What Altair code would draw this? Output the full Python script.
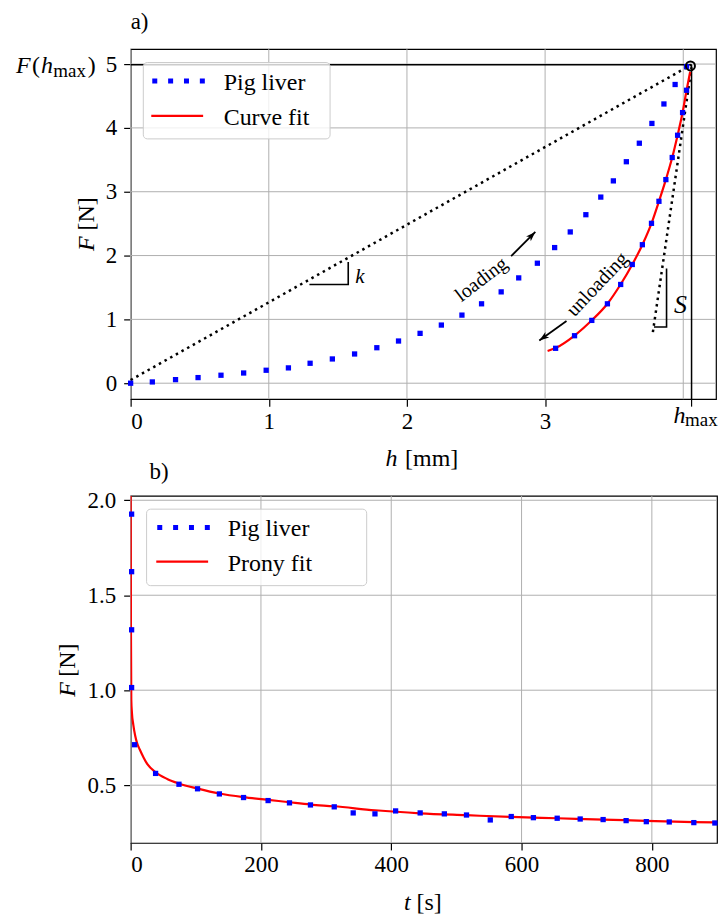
import altair as alt
import pandas as pd

FONT = "Liberation Serif"
BLUE = "#0000ff"
RED = "#ff0000"
GRID = "#b0b0b0"

# ---------------- panel a) data ----------------
h_load = [0.0, 0.157, 0.325, 0.488, 0.654, 0.818, 0.981, 1.142, 1.299, 1.460, 1.621, 1.782,
          1.939, 2.095, 2.249, 2.398, 2.540, 2.682, 2.809, 2.944, 3.069, 3.182, 3.295, 3.403,
          3.494, 3.588, 3.682, 3.773, 3.860, 3.941, 4.024]
F_load = [0.0, 0.02, 0.056, 0.088, 0.125, 0.16, 0.203, 0.24, 0.3125, 0.38, 0.458, 0.556,
          0.661, 0.781, 0.911, 1.067, 1.244, 1.431, 1.65, 1.88, 2.125, 2.37, 2.64, 2.916,
          3.17, 3.47, 3.76, 4.07, 4.375, 4.68, 4.96]
h_unl = [4.024, 3.995, 3.959, 3.920, 3.874, 3.824, 3.770, 3.704, 3.631, 3.547, 3.451, 3.338, 3.213, 3.076]
F_unl = [4.59, 4.24, 3.885, 3.536, 3.19, 2.85, 2.505, 2.17, 1.86, 1.547, 1.244, 0.984, 0.744, 0.547]
h_fit = [3.018, 3.076, 3.213, 3.338, 3.451, 3.547, 3.631, 3.704, 3.770, 3.824, 3.874, 3.920,
         3.959, 3.995, 4.024, 4.050]
F_fit = [0.505, 0.55, 0.745, 0.985, 1.245, 1.55, 1.86, 2.17, 2.505, 2.85, 3.19, 3.535,
         3.885, 4.24, 4.59, 4.88]
h_max = 4.06
F_max = 4.99
k_line_h = [0.0, 4.06]
k_line_F = [0.05, 4.99]
S_line_h = [3.78, 4.06]
S_line_F = [0.80, 4.95]
k_tri_h = [1.294, 1.575, 1.575]
k_tri_F = [1.547, 1.547, 1.90]
S_tri_h = [3.788, 3.879, 3.879]
S_tri_F = [0.88, 0.88, 1.797]
h_ticks = [0, 1, 2, 3, h_max]
h_grid = [0, 1, 2, 3, 4]
F_ticks = [0, 1, 2, 3, 4, 5]
h_dom = [0, 4.237]
F_dom = [-0.25, 5.234]
arrows = [  # start h, start F, tip h, tip F, head angle
    (2.754, 1.99, 2.929, 2.37, 45),
    (3.155, 0.973, 2.958, 0.67, 235),
]
notes = [  # text, h, F, angle, size, style
    ("loading", 2.539, 1.625, 322.6, 20, "normal"),
    ("unloading", 3.379, 1.547, 313.4, 20, "normal"),
    ("k", 1.66, 1.67, 0, 21, "italic"),
    ("S", 3.98, 1.23, 0, 26, "italic"),
]

# ---------------- panel b) data ----------------
t_data = [1.5, 1.5, 1.5, 1.5, 6.0, 38.3, 74.2, 102.7, 136.2, 173.3, 211, 243.8, 276, 312.5,
          341.6, 375, 406.7, 444.4, 481.5, 515.5, 552, 584.2, 618.2, 654.7, 690, 725.2,
          760.5, 791.5, 826.7, 864.4, 896.7]
Fb_data = [1.927, 1.624, 1.318, 1.014, 0.713, 0.562, 0.505, 0.481, 0.454, 0.435, 0.419, 0.407,
           0.396, 0.386, 0.354, 0.349, 0.3645, 0.354, 0.349, 0.343, 0.317, 0.335, 0.329,
           0.326, 0.322, 0.319, 0.3135, 0.308, 0.3065, 0.303, 0.301]
t_fit = [0, 0.5, 1, 2, 4, 7, 10, 14, 20, 26, 38, 56, 74, 103, 136, 173, 211, 244, 276, 312,
         375, 444, 515, 584, 655, 725, 791, 864, 900]
Fb_fit = [2.05, 1.3, 0.95, 0.88, 0.82, 0.76, 0.72, 0.688, 0.645, 0.609, 0.569, 0.533, 0.509,
          0.482, 0.456, 0.437, 0.423, 0.41, 0.398, 0.389, 0.368, 0.352, 0.342, 0.333, 0.326,
          0.319, 0.312, 0.306, 0.304]
t_ticks = [0, 200, 400, 600, 800]
Fb_ticks = [0.5, 1.0, 1.5, 2.0]
t_dom = [0, 900]
Fb_dom = [0.196, 2.023]

TOP_W, TOP_H = 587, 351
BOT_W, BOT_H = 588, 348


def label(txt, x, y, size=23, style="normal", align="left", baseline="alphabetic", angle=0):
    return alt.Chart(pd.DataFrame({"s": [txt]})).mark_text(
        font=FONT, fontSize=size, fontStyle=style, align=align,
        baseline=baseline, angle=angle, color="black"
    ).encode(x=alt.value(x), y=alt.value(y), text="s:N")


def legend(box, y1, y2, text1, text2, xs):
    x0, x1, ytop, ybot = box
    bg = alt.Chart(alt.Data(values=[{}])).mark_rect(
        cornerRadius=4, fill="white", fillOpacity=0.8, stroke="#cccccc", strokeWidth=1
    ).encode(x=alt.value(x0), x2=alt.value(x1), y=alt.value(ytop), y2=alt.value(ybot))
    dots = alt.Chart(alt.Data(values=[{}])).mark_rule(
        color=BLUE, strokeWidth=5, strokeDash=[5, 10.9], strokeCap="butt"
    ).encode(x=alt.value(xs[0]), x2=alt.value(xs[0] + 52.7), y=alt.value(y1))
    red = alt.Chart(alt.Data(values=[{}])).mark_rule(color=RED, strokeWidth=2.2).encode(
        x=alt.value(xs[0] - 1), x2=alt.value(xs[0] + 51), y=alt.value(y2))
    return [bg, dots, red,
            label(text1, xs[1], y1 + 9, size=24),
            label(text2, xs[1], y2 + 9, size=24)]


# ---------------- panel a) ----------------
xs = alt.Scale(domain=h_dom, nice=False, zero=False)
ys = alt.Scale(domain=F_dom, nice=False, zero=False)
AX_A = alt.Axis(values=h_ticks, grid=False, domain=False, title=None,
                labelExpr="datum.value > 3.5 ? '' : datum.label", format="d", labelPadding=4)
AY_A = alt.Axis(values=F_ticks, grid=False, domain=False, title=None, format="d", labelPadding=7)


def XA(f):
    return alt.X(f, scale=xs, axis=AX_A)


def YA(f):
    return alt.Y(f, scale=ys, axis=AY_A)


grid_v = alt.Chart(pd.DataFrame({"h": h_grid})).mark_rule(color=GRID, strokeWidth=1).encode(
    x=XA("h:Q"))
grid_h = alt.Chart(pd.DataFrame({"F": F_ticks})).mark_rule(color=GRID, strokeWidth=1).encode(
    y=YA("F:Q"))

hline = alt.Chart(pd.DataFrame({"a": [0.0], "b": [h_max], "F": [F_max]})).mark_rule(
    color="black", strokeWidth=1.5).encode(x=XA("a:Q"), x2="b:Q", y=YA("F:Q"))
vline = alt.Chart(pd.DataFrame({"h": [h_max], "a": [F_dom[0]], "b": [F_max]})).mark_rule(
    color="black", strokeWidth=1.5).encode(x=XA("h:Q"), y=YA("a:Q"), y2="b:Q")


def dotted(hv, Fv):
    return alt.Chart(pd.DataFrame({"h": hv, "F": Fv})).mark_line(
        color="black", strokeWidth=2.5, strokeDash=[2.5, 4], strokeCap="butt").encode(
        x=XA("h:Q"), y=YA("F:Q"))


def tri(hv, Fv):
    return alt.Chart(pd.DataFrame({"h": hv, "F": Fv, "o": list(range(len(hv)))})).mark_line(
        color="black", strokeWidth=1.6).encode(x=XA("h:Q"), y=YA("F:Q"), order="o:Q")


red_a = alt.Chart(pd.DataFrame({"h": h_fit, "F": F_fit})).mark_line(
    color=RED, strokeWidth=2.2, interpolate="monotone").encode(x=XA("h:Q"), y=YA("F:Q"))
blue_a = alt.Chart(pd.DataFrame({"h": h_load + h_unl, "F": F_load + F_unl})).mark_square(
    size=28, color=BLUE, opacity=1).encode(x=XA("h:Q"), y=YA("F:Q"))
circ = alt.Chart(pd.DataFrame({"h": [h_max - 0.008], "F": [F_max - 0.02]})).mark_point(
    shape="circle", filled=False, size=81, strokeWidth=2, color="black", opacity=1).encode(
    x=XA("h:Q"), y=YA("F:Q"))

adf = pd.DataFrame(arrows, columns=["h0", "F0", "h1", "F1", "ang"])
shaft = alt.Chart(adf).mark_rule(color="black", strokeWidth=1.8).encode(
    x=XA("h0:Q"), y=YA("F0:Q"), x2="h1:Q", y2="F1:Q")
head = alt.Chart(adf).mark_point(
    shape="M0,0L0.55,1.6L0,1.2L-0.55,1.6Z", filled=True, size=150, color="black", opacity=1
).encode(x=XA("h1:Q"), y=YA("F1:Q"), angle=alt.Angle("ang:Q", scale=None))

note_layers = []
for txt, hh, ff, ang, sz, st in notes:
    note_layers.append(
        alt.Chart(pd.DataFrame({"h": [hh], "F": [ff], "t": [txt]})).mark_text(
            font=FONT, fontSize=sz, fontStyle=st, angle=ang, align="center",
            baseline="middle", color="black").encode(x=XA("h:Q"), y=YA("F:Q"), text="t:N"))

top_texts = [
    label("a)", 0, -20.6),
    label("F", -115, 24.4, size=24, style="italic"),
    label("(", -99, 24.4, size=24),
    label("h", -90, 24.4, size=24, style="italic"),
    label("max", -77.5, 27.5, size=19),
    label(")", -43, 24.4, size=24),
    label("h", 544.3, 375.4, size=24, style="italic"),
    label("max", 556, 378, size=19),
    label("h", 255.5, 417.7, size=24, style="italic"),
    label("[mm]", 328.5, 417.7, size=24, align="right"),
    label("F", -44, 202.5, size=24, style="italic", angle=270, baseline="middle"),
    label("[N]", -44, 148.5, size=24, angle=270, baseline="middle", align="right"),
]

top = alt.layer(
    grid_v, grid_h, hline, vline,
    dotted(k_line_h, k_line_F), dotted(S_line_h, S_line_F),
    red_a, blue_a, circ, tri(k_tri_h, k_tri_F), tri(S_tri_h, S_tri_F),
    shaft, head, *note_layers,
    *legend((12.7, 200, 13.4, 90), 32, 67, "Pig liver", "Curve fit", (21.7, 93.3)),
    *top_texts,
).properties(width=TOP_W, height=TOP_H)

# ---------------- panel b) ----------------
xb = alt.Scale(domain=t_dom, nice=False, zero=False)
yb = alt.Scale(domain=Fb_dom, nice=False, zero=False)
AX_B = alt.Axis(values=t_ticks, grid=False, domain=False, title=None, format="d", labelPadding=4)
AY_B = alt.Axis(values=Fb_ticks, grid=False, domain=False, title=None, format=".1f", labelPadding=8)

gb_v = alt.Chart(pd.DataFrame({"t": t_ticks})).mark_rule(color=GRID, strokeWidth=1).encode(
    x=alt.X("t:Q", scale=xb, axis=AX_B))
gb_h = alt.Chart(pd.DataFrame({"F": Fb_ticks})).mark_rule(color=GRID, strokeWidth=1).encode(
    y=alt.Y("F:Q", scale=yb, axis=AY_B))
red_b = alt.Chart(pd.DataFrame({"t": t_fit, "F": Fb_fit})).mark_line(
    color=RED, strokeWidth=2.2, interpolate="monotone", clip=True).encode(
    x=alt.X("t:Q", scale=xb, axis=AX_B), y=alt.Y("F:Q", scale=yb, axis=AY_B))
blue_b = alt.Chart(pd.DataFrame({"t": t_data, "F": Fb_data})).mark_square(
    size=28, color=BLUE, opacity=1).encode(
    x=alt.X("t:Q", scale=xb, axis=AX_B), y=alt.Y("F:Q", scale=yb, axis=AY_B))

bot_texts = [
    label("b)", 19, -17),
    label("t", 274, 414.8, size=24, style="italic"),
    label("[s]", 312, 414.8, size=24, align="right"),
    label("F", -62.5, 201.5, size=24, style="italic", angle=270, baseline="middle"),
    label("[N]", -62.5, 148, size=24, angle=270, baseline="middle", align="right"),
]

bottom = alt.layer(
    gb_v, gb_h, red_b, blue_b,
    *legend((16, 236.7, 13.3, 90), 31.7, 66, "Pig liver", "Prony fit", (26.7, 97.3)),
    *bot_texts,
).properties(width=BOT_W, height=BOT_H)

chart = alt.vconcat(top, bottom, spacing=97, bounds="flush").properties(
    padding={"left": 15, "top": 8, "right": 0, "bottom": 0}
).configure(font=FONT).configure_view(stroke="black", strokeWidth=1.2).configure_axis(
    labelFont=FONT, labelFontSize=23, labelColor="black", tickColor="black",
    tickWidth=1.2, tickSize=7
)

chart.save("out.html", embed_options={"renderer": "svg", "actions": False})
